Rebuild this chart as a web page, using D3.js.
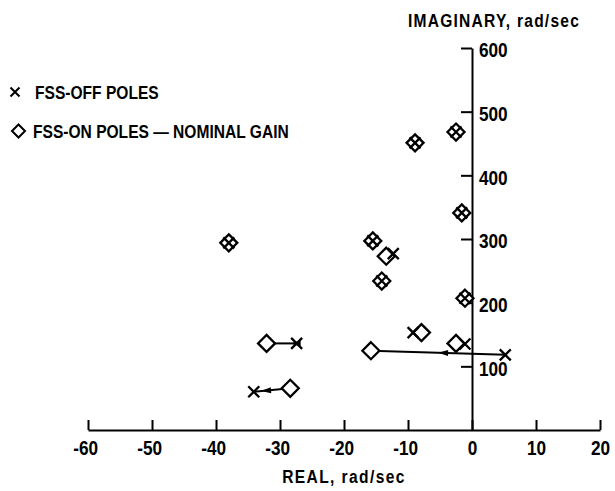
<!DOCTYPE html>
<html>
<head>
<meta charset="utf-8">
<script src="https://cdnjs.cloudflare.com/ajax/libs/d3/7.8.5/d3.min.js"></script>
<style>
    body { margin: 0; background: #fff; }
    svg { display: block; }
    text { font-family: "Liberation Sans", Arial, sans-serif; font-weight: bold; fill: #000; }
    .axis path, .axis line { stroke: #000; stroke-width: 2; }
    .axis text { font-size: 21px; }
    .title { font-size: 19px; }
    .legend { font-size: 19px; }
</style>
</head>
<body>
<svg id="chart" width="615" height="491"></svg>
<script>
// FSS-off poles (x) and FSS-on poles (diamond), same order so pairs line up
var offReal = [-38, -15.5, -14.1, -8.9, -2.5, -1.6, -1.1, -12.3, -9.2, -1.1, -27.4, -34.1, 5.2];
var offImag = [294, 297, 234, 451, 468, 341, 207, 277, 153, 135, 136, 60, 118];
var onReal = [-38, -15.5, -14.1, -8.9, -2.5, -1.6, -1.1, -13.4, -7.9, -2.5, -32.1, -28.4, -15.8];
var onImag = [294, 297, 234, 451, 468, 341, 207, 273, 153, 136, 136, 65.5, 124.5];

// pairs joined by a line with an arrow head (index into the arrays above)
var arrowPairs = [10, 11, 12];
var arrowPos = [0.2, 0.2, 0.5];   // fraction along the line, measured from the x

var realTicks = [-60, -50, -40, -30, -20, -10, 0, 10, 20];
var imagTicks = [100, 200, 300, 400, 500, 600];

// the lettering on the original is condensed, so squeeze the text a bit
var squeeze = "scale(0.82,1)";

var svg = d3.select("#chart");

var x = d3.scaleLinear().domain([-60, 20]).range([88, 600]);
var y = d3.scaleLinear().domain([0, 600]).range([430, 48]);

// real axis, ticks pointing up
var xAxis = d3.axisBottom(x)
    .tickValues(realTicks)
    .tickSizeInner(-10)
    .tickSizeOuter(0)
    .tickPadding(10)
    .tickFormat(function (d) { return d < 0 ? "-" + Math.abs(d) : String(d); });

var gx = svg.append("g")
    .attr("class", "axis")
    .attr("transform", "translate(0," + y(0) + ")")
    .call(xAxis);
gx.select(".domain").attr("stroke-width", 2.2);
gx.selectAll("text")
    .attr("transform", squeeze)
    .attr("dx", function (d) { return d < 0 ? -3.5 : 0; });

// imaginary axis sits on real = 0, ticks to the left, labels to the right
var yAxis = d3.axisRight(y)
    .tickValues(imagTicks)
    .tickSizeInner(-11)
    .tickSizeOuter(0)
    .tickPadding(8.5);

var gy = svg.append("g")
    .attr("class", "axis")
    .attr("transform", "translate(" + x(0) + ",0)")
    .call(yAxis);
gy.selectAll("text")
    .attr("transform", squeeze)
    .attr("dy", "0.42em");

svg.append("text")
    .attr("class", "title")
    .attr("transform", "translate(408,27) " + squeeze)
    .attr("letter-spacing", 1.5)
    .text("IMAGINARY, rad/sec");

svg.append("text")
    .attr("class", "title")
    .attr("transform", "translate(344,483) " + squeeze)
    .attr("letter-spacing", 1.7)
    .attr("text-anchor", "middle")
    .text("REAL, rad/sec");

// connecting lines for the poles that move
var moves = svg.append("g");
arrowPairs.forEach(function (i, k) {
    var x0 = x(offReal[i]), y0 = y(offImag[i]);
    var x1 = x(onReal[i]), y1 = y(onImag[i]);
    moves.append("line")
        .attr("x1", x0).attr("y1", y0)
        .attr("x2", x1).attr("y2", y1)
        .attr("stroke", "#000")
        .attr("stroke-width", 2);
    // arrow head, always pointing to the left along the line
    var t = arrowPos[k];
    var hx = x0 + (x1 - x0) * t, hy = y0 + (y1 - y0) * t;
    var dx = x1 - x0, dy = y1 - y0;
    if (dx < 0) { dx = -dx; dy = -dy; }
    var ang = Math.atan2(dy, dx) * 180 / Math.PI;
    moves.append("path")
        .attr("d", "M0,0L10,-3L10,3Z")
        .attr("transform", "translate(" + hx + "," + hy + ") rotate(" + ang + ")")
        .attr("fill", "#000");
});

var diamond = "M0,-8.5L8.5,0L0,8.5L-8.5,0Z";
var cross = "M-5.5,-5.5L5.5,5.5M-5.5,5.5L5.5,-5.5";

svg.append("g")
    .selectAll("path")
    .data(onReal)
    .enter()
    .append("path")
    .attr("d", diamond)
    .attr("transform", function (d, i) { return "translate(" + x(d) + "," + y(onImag[i]) + ")"; })
    .attr("fill", "#fff")
    .attr("stroke", "#000")
    .attr("stroke-width", 2.3);

svg.append("g")
    .selectAll("path")
    .data(offReal)
    .enter()
    .append("path")
    .attr("d", cross)
    .attr("transform", function (d, i) { return "translate(" + x(d) + "," + y(offImag[i]) + ")"; })
    .attr("fill", "none")
    .attr("stroke", "#000")
    .attr("stroke-width", 2.3);

// legend
svg.append("path")
    .attr("d", "M-4.5,-4.5L4.5,4.5M-4.5,4.5L4.5,-4.5")
    .attr("transform", "translate(15,92)")
    .attr("stroke", "#000")
    .attr("stroke-width", 2);
svg.append("text")
    .attr("class", "legend")
    .attr("transform", "translate(35,99) " + squeeze)
    .text("FSS-OFF POLES");

svg.append("path")
    .attr("d", "M0,-6.5L6.5,0L0,6.5L-6.5,0Z")
    .attr("transform", "translate(18.5,131)")
    .attr("fill", "none")
    .attr("stroke", "#000")
    .attr("stroke-width", 2);
svg.append("text")
    .attr("class", "legend")
    .attr("transform", "translate(33,138) " + squeeze)
    .text("FSS-ON POLES \u2014 NOMINAL GAIN");
</script>
</body>
</html>
